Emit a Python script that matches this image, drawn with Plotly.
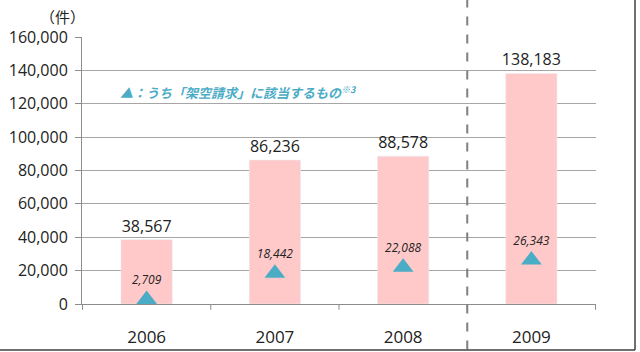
import plotly.graph_objects as go

years = ["2006", "2007", "2008", "2009"]
totals = [38567, 86236, 88578, 138183]
fictitious = [2709, 18442, 22088, 26343]
y_ticks = [0, 20000, 40000, 60000, 80000, 100000, 120000, 140000, 160000]

font = "Open Sans, Liberation Sans, sans-serif"
jp_font = "Noto Sans CJK JP, sans-serif"

fig = go.Figure()
fig.add_trace(go.Bar(
    x=years, y=totals, width=0.4, marker_color="#FFC9C9",
    text=[f"{v:,}" for v in totals], textposition="outside", constraintext="none",
    textfont=dict(family=font, size=16, color="#222222"),
    cliponaxis=False, hoverinfo="skip"))
fig.add_trace(go.Scatter(
    x=years, y=fictitious, mode="markers+text",
    marker=dict(symbol="triangle-up", size=18, color="#4BACC6"),
    text=[f"<i>{v:,}</i>" for v in fictitious], textposition="top center",
    textfont=dict(family=font, size=12, color="#222222"),
    cliponaxis=False, hoverinfo="skip"))

fig.update_layout(
    width=640, height=352, margin=dict(l=82, r=44, t=37, b=48, autoexpand=False),
    paper_bgcolor="white", plot_bgcolor="white", showlegend=False,
    bargap=0.6,
    xaxis=dict(type="category", showgrid=False, showline=True, linecolor="#8c8c8c",
               linewidth=1, ticks="", automargin=False,
               tickfont=dict(family=font, size=17, color="#222222"),
               ticklabelstandoff=18),
    yaxis=dict(range=[0, 160000], tickvals=y_ticks, ticktext=[f"{v:,}" for v in y_ticks],
               showgrid=True, gridcolor="#a6a6a6", gridwidth=1, zeroline=False, automargin=False,
               showline=True, linecolor="#8c8c8c", ticks="outside", ticklen=6, tickcolor="#8c8c8c",
               ticklabelstandoff=4,
               tickfont=dict(family=font, size=16, color="#222222")),
)

# category tick marks below axis at boundaries
for b in [-0.5, 0.5, 1.5, 2.5, 3.5]:
    fig.add_shape(type="line", xref="x", yref="paper", x0=b, x1=b, y0=0, y1=-0.022,
                  line=dict(color="#8c8c8c", width=1))

# dashed separator
fig.add_shape(type="line", xref="x", yref="paper", x0=2.5, x1=2.5, y0=-0.17, y1=1.14,
              line=dict(color="#7f7f7f", width=2, dash="dash"))

# frame shadow lines right and bottom
fig.add_shape(type="line", xref="paper", yref="paper", x0=1.0 + 39/514, x1=1.0 + 39/514,
              y0=-0.172, y1=1.14, line=dict(color="#404040", width=1.5))
fig.add_shape(type="line", xref="paper", yref="paper", x0=-82/514, x1=1.0 + 39/514,
              y0=-0.172, y1=-0.172, line=dict(color="#404040", width=1.5))

fig.add_annotation(xref="paper", yref="paper", x=-44/514, y=1 + 21/267, text="（件）",
                   showarrow=False, font=dict(family=jp_font, size=15, color="#222222"),
                   xanchor="left", yanchor="middle")
fig.add_annotation(xref="paper", yref="paper", x=36/514, y=(304 - 92) / 267,
                   text="<b><i>▲：うち「架空請求」に該当するもの<sup>※3</sup></i></b>",
                   showarrow=False, font=dict(family=jp_font, size=13, color="#4BACC6"),
                   xanchor="left", yanchor="middle")

fig.write_html("out.html")
